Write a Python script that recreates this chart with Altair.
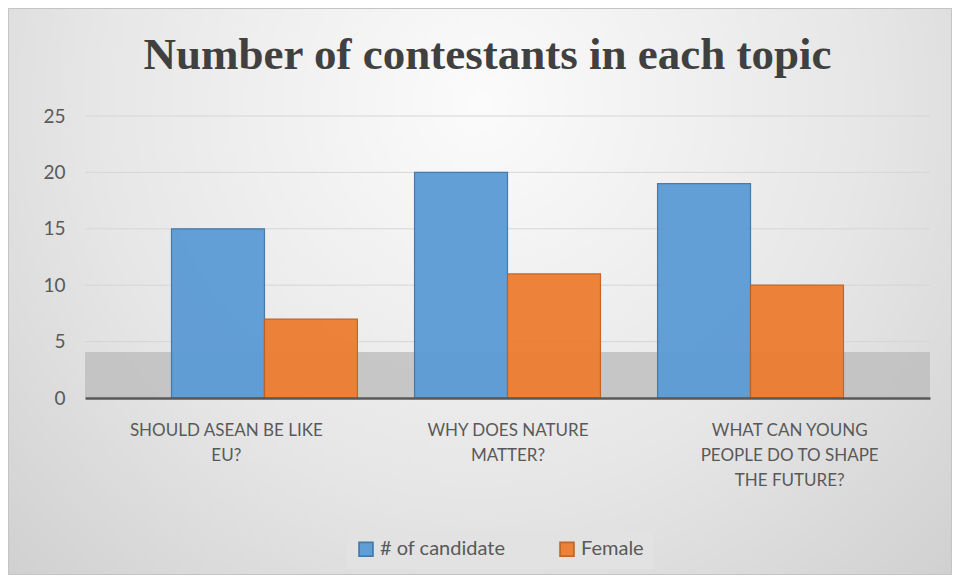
import altair as alt
import pandas as pd

categories = ["SHOULD ASEAN BE LIKE|EU?", "WHY DOES NATURE|MATTER?", "WHAT CAN YOUNG|PEOPLE DO TO SHAPE|THE FUTURE?"]
series_names = ["# of candidate", "Female"]
candidates = [15, 20, 19]
female = [7, 11, 10]
y_ticks = [0, 5, 10, 15, 20, 25]
grid_ticks = [5, 10, 15, 20, 25]

rows = []
for c, v in zip(categories, candidates):
    rows.append({"topic": c, "series": series_names[0], "value": v})
for c, v in zip(categories, female):
    rows.append({"topic": c, "series": series_names[1], "value": v})
df = pd.DataFrame(rows)

W, H = 845, 282
PL, PT = 77, 108
PR = 944 - PL - W
PB = 567 - PT - H

FONT = "Lato, Open Sans, sans-serif"
FS = 17
TXT = "#595959"

y_scale = alt.Scale(domain=[0, 25], nice=False)
y_axis = alt.Axis(values=y_ticks, title=None, domain=False, ticks=False, grid=False,
                  labelFont=FONT, labelFontSize=19, labelColor=TXT,
                  labelPadding=20, zindex=1)

bg = alt.Chart(pd.DataFrame({"a": [0]})).mark_rect(
    fill={
        "gradient": "radial",
        "x1": 0.5, "y1": 0.3, "r1": 0,
        "x2": 0.5, "y2": 0.3, "r2": 0.75,
        "stops": [
            {"offset": 0, "color": "#fbfbfb"},
            {"offset": 0.55, "color": "#e6e6e6"},
            {"offset": 1, "color": "#cdcdcd"},
        ],
    },
    stroke="#c4c4c4",
    strokeWidth=1,
).encode(
    x=alt.value(-PL + 0.5), x2=alt.value(W + PR - 0.5),
    y=alt.value(-PT + 0.5), y2=alt.value(H + PB - 0.5),
)

floor = alt.Chart(pd.DataFrame({"a": [0]})).mark_rect(color="#bdbdbd", opacity=0.8).encode(
    x=alt.value(0), x2=alt.value(W), y=alt.value(H - 46), y2=alt.value(H)
)

grid = alt.Chart(pd.DataFrame({"t": grid_ticks})).mark_rule(color="#d6d6d6", strokeWidth=1).encode(
    y=alt.Y("t:Q", scale=y_scale, axis=y_axis),
    x=alt.value(0), x2=alt.value(W),
)

legend = alt.Legend(title=None, orient="none", legendX=262, legendY=414,
                    direction="horizontal", symbolType="square",
                    symbolSize=190, symbolStrokeWidth=1.8,
                    labelFont=FONT, labelFontSize=20, labelColor=TXT,
                    columnPadding=50, labelOffset=4,
                    padding=9, fillColor="#e2e2e2", zindex=1)

bars = alt.Chart(df).mark_bar(strokeWidth=1.2, opacity=0.95).encode(
    x=alt.X("topic:N", sort=categories, axis=None,
            scale=alt.Scale(paddingInner=0.235, paddingOuter=0.356)),
    xOffset=alt.XOffset("series:N", sort=series_names,
                        scale=alt.Scale(paddingInner=0, paddingOuter=0)),
    y=alt.Y("value:Q", scale=y_scale, axis=y_axis),
    color=alt.Color("series:N", sort=series_names,
                    scale=alt.Scale(domain=series_names, range=["#5b9bd5", "#ed7d31"]),
                    legend=legend),
    stroke=alt.Stroke("series:N", sort=series_names,
                      scale=alt.Scale(domain=series_names, range=["#3e75a8", "#c0601f"]),
                      legend=legend),
)

axis_layer = alt.Chart(pd.DataFrame({"topic": categories})).mark_point(opacity=0).encode(
    x=alt.X("topic:N", sort=categories, title=None,
            scale=alt.Scale(paddingInner=0, paddingOuter=0),
            axis=alt.Axis(orient="bottom", labelAngle=0, ticks=False,
                          labelExpr="split(datum.label, '|')",
                          labelFont=FONT, labelFontSize=FS, labelColor=TXT,
                          labelLineHeight=25, labelPadding=24, labelLimit=300,
                          domainColor="#595959", domainWidth=2.5, zindex=1)),
)

chart = alt.layer(bg, floor, grid, bars, axis_layer).resolve_scale(
    x="independent"
).properties(
    width=W, height=H,
    padding={"left": PL, "top": PT, "right": PR, "bottom": PB},
    autosize=alt.AutoSizeParams(type="none"),
    background="#d9d9d9",
    title=alt.TitleParams(
        "Number of contestants in each topic",
        font="Liberation Serif, DejaVu Serif, serif", fontSize=45, fontWeight="bold",
        color="#404040", anchor="middle", baseline="alphabetic", offset=-106,
        dx=-20, frame="group", zindex=1,
    ),
).configure_view(stroke=None)

chart.save("out.html", embed_options={"renderer": "svg", "actions": False})
